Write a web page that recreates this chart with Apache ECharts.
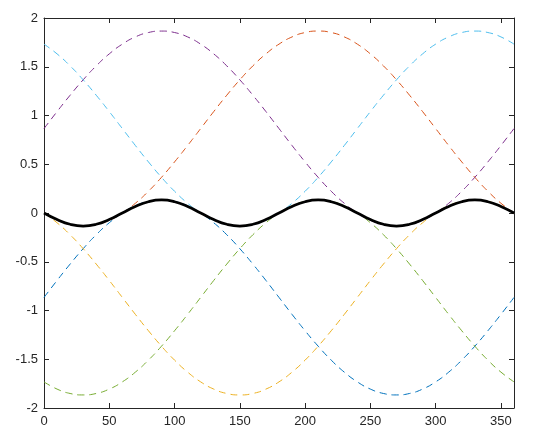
<!DOCTYPE html>
<html>
<head>
<meta charset="utf-8">
<script src="https://cdn.jsdelivr.net/npm/echarts@6/dist/echarts.min.js"></script>
<style>html,body{margin:0;padding:0;background:#fff;}#c{width:543px;height:446px;}</style>
</head>
<body>
<div id="c"></div>
<script>
var xs = [0,10,20,30,40,50,60,70,80,90,100,110,120,130,140,150,160,170,180,190,200,210,220,230,240,250,260,270,280,290,300,310,320,330,340,350,360];
var blue = [-0.866,-0.692,-0.524,-0.366,-0.223,-0.100,0.000,0.074,0.119,0.134,0.119,0.074,0.000,-0.100,-0.223,-0.366,-0.524,-0.692,-0.866,-1.040,-1.208,-1.366,-1.509,-1.632,-1.732,-1.806,-1.851,-1.866,-1.851,-1.806,-1.732,-1.632,-1.509,-1.366,-1.208,-1.040,-0.866];
var orange = [0.000,-0.074,-0.119,-0.134,-0.119,-0.074,0.000,0.100,0.223,0.366,0.524,0.692,0.866,1.040,1.208,1.366,1.509,1.632,1.732,1.806,1.851,1.866,1.851,1.806,1.732,1.632,1.509,1.366,1.208,1.040,0.866,0.692,0.524,0.366,0.223,0.100,0.000];
var yellow = [0.000,-0.100,-0.223,-0.366,-0.524,-0.692,-0.866,-1.040,-1.208,-1.366,-1.509,-1.632,-1.732,-1.806,-1.851,-1.866,-1.851,-1.806,-1.732,-1.632,-1.509,-1.366,-1.208,-1.040,-0.866,-0.692,-0.524,-0.366,-0.223,-0.100,0.000,0.074,0.119,0.134,0.119,0.074,0.000];
var purple = [0.866,1.040,1.208,1.366,1.509,1.632,1.732,1.806,1.851,1.866,1.851,1.806,1.732,1.632,1.509,1.366,1.208,1.040,0.866,0.692,0.524,0.366,0.223,0.100,0.000,-0.074,-0.119,-0.134,-0.119,-0.074,0.000,0.100,0.223,0.366,0.524,0.692,0.866];
var green = [-1.732,-1.806,-1.851,-1.866,-1.851,-1.806,-1.732,-1.632,-1.509,-1.366,-1.208,-1.040,-0.866,-0.692,-0.524,-0.366,-0.223,-0.100,0.000,0.074,0.119,0.134,0.119,0.074,0.000,-0.100,-0.223,-0.366,-0.524,-0.692,-0.866,-1.040,-1.208,-1.366,-1.509,-1.632,-1.732];
var lightblue = [1.732,1.632,1.509,1.366,1.208,1.040,0.866,0.692,0.524,0.366,0.223,0.100,0.000,-0.074,-0.119,-0.134,-0.119,-0.074,0.000,0.100,0.223,0.366,0.524,0.692,0.866,1.040,1.208,1.366,1.509,1.632,1.732,1.806,1.851,1.866,1.851,1.806,1.732];
var black = [0.000,-0.067,-0.116,-0.134,-0.116,-0.067,0.000,0.067,0.116,0.134,0.116,0.067,0.000,-0.067,-0.116,-0.134,-0.116,-0.067,0.000,0.067,0.116,0.134,0.116,0.067,0.000,-0.067,-0.116,-0.134,-0.116,-0.067,0.000,0.067,0.116,0.134,0.116,0.067,0.000];

var xTicks = {min: 0, max: 360, interval: 50};
var yTicks = {min: -2, max: 2, interval: 0.5};

function pairs(arr){ return xs.map(function(x,i){ return [x, arr[i]]; }); }
var axisColor = '#262626';
var labelStyle = {color: axisColor, fontFamily: 'Liberation Sans, Arial, sans-serif', fontSize: 13};

function dashed(name, data, color){
  return {name: name, type: 'line', data: pairs(data), smooth: true, symbol: 'none',
    lineStyle: {color: color, width: 1, type: [7, 5]}, z: 2};
}

var chart = echarts.init(document.getElementById('c'), null, {renderer: 'canvas'});
chart.setOption({
  animation: false,
  backgroundColor: '#fff',
  grid: {left: 44, top: 18, right: 29, bottom: 38, containLabel: false},
  xAxis: [
    {type: 'value', min: xTicks.min, max: xTicks.max, interval: xTicks.interval, position: 'bottom',
     axisLine: {show: true, onZero: false, lineStyle: {color: axisColor, width: 1}},
     axisTick: {show: true, inside: true, length: 5, lineStyle: {color: axisColor}},
     axisLabel: Object.assign({margin: 7}, labelStyle),
     splitLine: {show: false}},
    {type: 'value', min: xTicks.min, max: xTicks.max, interval: xTicks.interval, position: 'top',
     axisLine: {show: true, onZero: false, lineStyle: {color: axisColor, width: 1}},
     axisTick: {show: true, inside: true, length: 5, lineStyle: {color: axisColor}},
     axisLabel: {show: false}, splitLine: {show: false}}
  ],
  yAxis: [
    {type: 'value', min: yTicks.min, max: yTicks.max, interval: yTicks.interval, position: 'left',
     axisLine: {show: true, onZero: false, lineStyle: {color: axisColor, width: 1}},
     axisTick: {show: true, inside: true, length: 5, lineStyle: {color: axisColor}},
     axisLabel: Object.assign({margin: 6}, labelStyle),
     splitLine: {show: false}},
    {type: 'value', min: yTicks.min, max: yTicks.max, interval: yTicks.interval, position: 'right',
     axisLine: {show: true, onZero: false, lineStyle: {color: axisColor, width: 1}},
     axisTick: {show: true, inside: true, length: 5, lineStyle: {color: axisColor}},
     axisLabel: {show: false}, splitLine: {show: false}}
  ],
  series: [
    dashed('s1', blue, '#0072BD'),
    dashed('s2', orange, '#D95319'),
    dashed('s3', yellow, '#EDB120'),
    dashed('s4', purple, '#7E2F8E'),
    dashed('s5', green, '#77AC30'),
    dashed('s6', lightblue, '#4DBEEE'),
    {name: 'sum', type: 'line', data: pairs(black), smooth: true, symbol: 'none',
     lineStyle: {color: '#000000', width: 2.7, type: 'solid'}, z: 3}
  ]
});
</script>
</body>
</html>
